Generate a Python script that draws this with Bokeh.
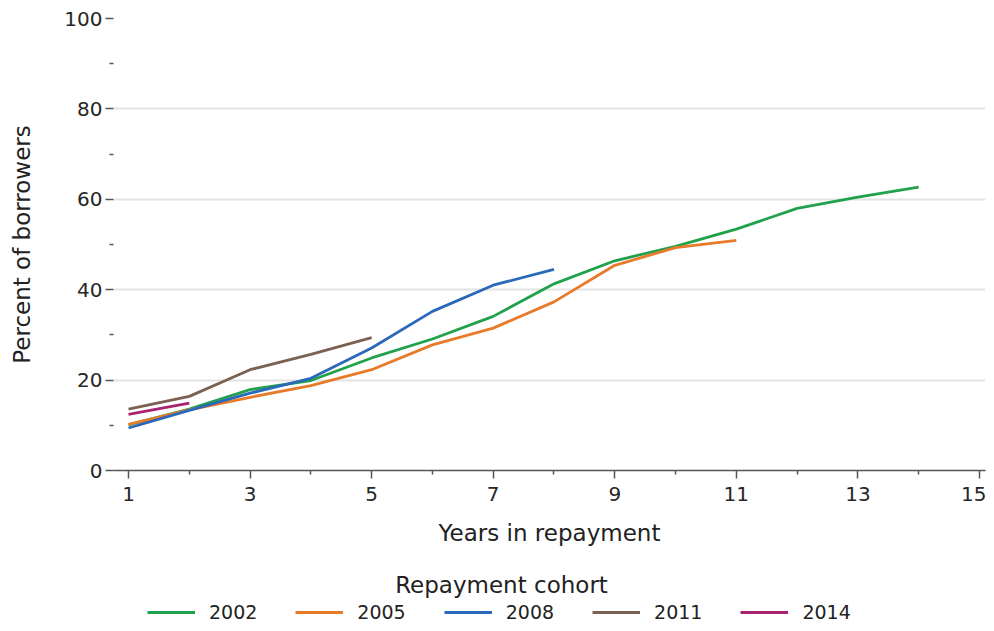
from bokeh.plotting import figure
from bokeh.layouts import column
from bokeh.models import FixedTicker, Legend, LegendItem, Label, Range1d
from bokeh.embed import file_html
from bokeh.resources import INLINE

# ---- data ----
cohorts = ["2002", "2005", "2008", "2011", "2014"]
years_2002 = [1, 2, 3, 4, 5, 6, 7, 8, 9, 10, 11, 12, 13, 14]
pct_2002 = [10.1, 13.6, 17.9, 19.9, 24.9, 29.1, 34.1, 41.3, 46.4, 49.6, 53.4, 58.0, 60.5, 62.7]
years_2005 = [1, 2, 3, 4, 5, 6, 7, 8, 9, 10, 11]
pct_2005 = [10.2, 13.4, 16.2, 18.8, 22.3, 27.8, 31.5, 37.3, 45.4, 49.3, 50.9]
years_2008 = [1, 2, 3, 4, 5, 6, 7, 8]
pct_2008 = [9.4, 13.3, 17.1, 20.4, 27.1, 35.2, 41.0, 44.5]
years_2011 = [1, 2, 3, 4, 5]
pct_2011 = [13.6, 16.4, 22.3, 25.7, 29.4]
years_2014 = [1, 2]
pct_2014 = [12.4, 14.9]

x_major = [1, 3, 5, 7, 9, 11, 13, 15]
x_minor = [2, 4, 6, 8, 10, 12, 14]
y_major = [0, 20, 40, 60, 80, 100]
y_minor = [10, 30, 50, 70, 90]

colors = ["#21a14b", "#e87b2a", "#2a69b9", "#7b6152", "#a8236f"]
series = [(years_2002, pct_2002), (years_2005, pct_2005), (years_2008, pct_2008),
          (years_2011, pct_2011), (years_2014, pct_2014)]

FONT = "DejaVu Sans"
LW = 2.8

# ---- main chart ----
p = figure(width=986, height=555, output_backend="svg", toolbar_location=None,
           x_range=Range1d(0.753, 15.099), y_range=Range1d(0, 100),
           min_border_left=113, min_border_right=1, min_border_top=18,
           min_border_bottom=85)
p.outline_line_color = None
p.background_fill_color = "white"
p.border_fill_color = "white"

xa = p.xaxis[0]
xa.ticker = FixedTicker(ticks=x_major, minor_ticks=x_minor)
xa.axis_label = "Years in repayment"
ya = p.yaxis[0]
ya.ticker = FixedTicker(ticks=y_major, minor_ticks=y_minor)
ya.axis_label = "Percent of borrowers"
for ax in (xa, ya):
    ax.axis_label_text_font = FONT
    ax.axis_label_text_font_size = "23px"
    ax.axis_label_text_font_style = "normal"
    ax.axis_label_text_color = "#222222"
    ax.major_label_text_font = FONT
    ax.major_label_text_font_size = "20px"
    ax.major_label_text_color = "#262626"
    ax.major_tick_line_color = "#555555"
    ax.minor_tick_line_color = "#555555"
    ax.major_tick_in = 0
    ax.minor_tick_in = 0
    ax.major_tick_out = 8
    ax.minor_tick_out = 4
    ax.major_tick_line_width = 1.5
    ax.minor_tick_line_width = 1.5
xa.axis_line_color = "#555555"
xa.axis_line_width = 1.5
xa.major_label_standoff = 8
xa.axis_label_standoff = 16
ya.axis_line_color = None
ya.major_label_standoff = 3
ya.axis_label_standoff = 26

p.xgrid.grid_line_color = None
p.ygrid.ticker = FixedTicker(ticks=y_major)
p.ygrid.grid_line_color = "#e3e3e3"
p.ygrid.grid_line_width = 2

for (xs, ys), c in zip(series, colors):
    p.line(xs, ys, line_color=c, line_width=LW)

# ---- legend strip (same series, view range kept away from the data) ----
q = figure(width=986, height=68, output_backend="svg", toolbar_location=None,
           x_range=Range1d(-10, -9), y_range=Range1d(-10, -9),
           x_axis_location=None, y_axis_location=None,
           min_border_left=0, min_border_right=0, min_border_top=0,
           min_border_bottom=0)
q.outline_line_color = None
q.grid.grid_line_color = None
q.background_fill_color = "white"
q.border_fill_color = "white"

items = []
for (xs, ys), c, name in zip(series, colors, cohorts):
    r = q.line(xs, ys, line_color=c, line_width=LW)
    items.append(LegendItem(label=name, renderers=[r]))

# frame of this strip is aligned with the main frame (left edge at x=113)
title = Label(text="Repayment cohort", x=388, y=39, x_units="screen", y_units="screen",
              text_font=FONT, text_font_size="23px", text_font_style="normal",
              text_color="#222222", text_baseline="alphabetic", text_align="center")
q.add_layout(title)

legend = Legend(items=items, orientation="horizontal", location=(34, 0),
                glyph_width=48, glyph_height=16, label_height=16,
                label_standoff=14, spacing=38,
                padding=0, margin=0, border_line_color=None,
                background_fill_alpha=0,
                label_text_font=FONT, label_text_font_size="19px",
                label_text_color="#222222")
q.add_layout(legend)

layout = column(p, q, spacing=0)
open("out.html", "w").write(file_html(layout, INLINE))
